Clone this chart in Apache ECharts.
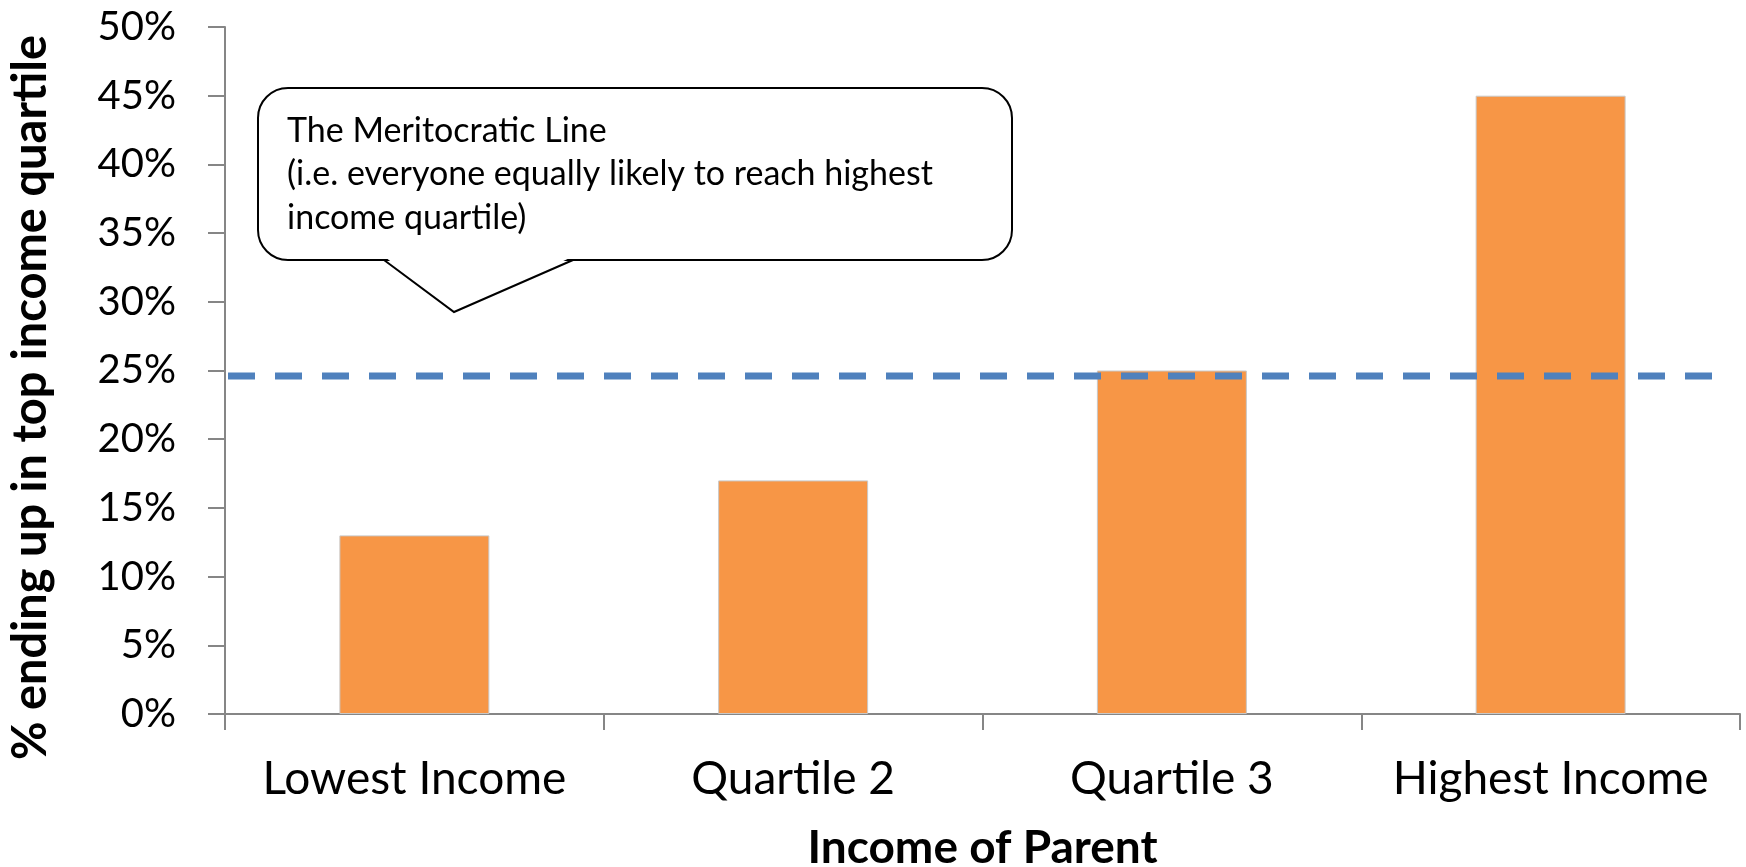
<!DOCTYPE html>
<html>
<head>
<meta charset="utf-8">
<script src="https://cdn.jsdelivr.net/npm/echarts@6/dist/echarts.min.js"></script>
<style>
html,body{margin:0;padding:0;background:#fff;}
#chart{width:1746px;height:867px;}
</style>
</head>
<body>
<div id="chart"></div>
<script>
const categories = ['Lowest Income', 'Quartile 2', 'Quartile 3', 'Highest Income'];
const topQuartileShare = [13, 17, 25, 45];
const meritocraticX = [0.008, 3.95];
const meritocraticY = [24.6, 24.6];
const yTicks = [0, 5, 10, 15, 20, 25, 30, 35, 40, 45, 50];
const calloutLines = ['The Meritocratic Line', '(i.e. everyone equally likely to reach highest', 'income quartile)'];

const FONT = 'Lato';
const chart = echarts.init(document.getElementById('chart'), null, {renderer: 'canvas'});

const option = {
  backgroundColor: '#ffffff',
  animation: false,
  grid: {left: 225, right: 6, top: 27, bottom: 153, containLabel: false, outerBoundsMode: 'none'},
  xAxis: [{
    type: 'category',
    data: categories,
    boundaryGap: true,
    name: 'Income of Parent',
    nameLocation: 'middle',
    nameGap: 111,
    nameTextStyle: {fontFamily: FONT, fontWeight: 'bold', fontSize: 46, color: '#000'},
    axisLine: {lineStyle: {color: '#868686', width: 2}},
    axisTick: {show: true, interval: 0, alignWithLabel: false, length: 16, lineStyle: {color: '#868686', width: 2}},
    axisLabel: {interval: 0, fontFamily: FONT, fontSize: 46, color: '#000', margin: 42},
    splitLine: {show: false}
  }, {
    type: 'value',
    min: 0, max: 4,
    show: false
  }],
  yAxis: {
    type: 'value',
    min: 0, max: 50, interval: 5,
    name: '% ending up in top income quartile',
    nameLocation: 'middle',
    nameRotate: 90,
    nameGap: 171,
    nameTextStyle: {fontFamily: FONT, fontWeight: 'bold', fontSize: 47, color: '#000', padding: [0, 54, 0, 0]},
    axisLine: {show: true, lineStyle: {color: '#868686', width: 2}},
    axisTick: {show: true, length: 17, lineStyle: {color: '#868686', width: 2}},
    axisLabel: {fontFamily: FONT, fontSize: 40, color: '#000', margin: 49,
      formatter: v => (yTicks.indexOf(v) >= 0 ? v + '%' : '')},
    splitLine: {show: false}
  },
  series: [{
    type: 'bar',
    xAxisIndex: 0,
    data: topQuartileShare,
    barWidth: '39.6%',
    itemStyle: {color: '#F79646', borderColor: '#c8c8c8', borderWidth: 1}
  }, {
    type: 'line',
    xAxisIndex: 1,
    data: meritocraticX.map((x, i) => [x, meritocraticY[i]]),
    symbol: 'none',
    lineStyle: {color: '#4F81BD', width: 7, type: [27, 20], cap: 'butt'},
    z: 5
  }],
  graphic: [{
    type: 'rect',
    shape: {x: 258, y: 88, width: 754, height: 172, r: 30},
    style: {fill: '#ffffff', stroke: '#000000', lineWidth: 2},
    z: 10
  }, {
    type: 'polygon',
    shape: {points: [[385, 257], [572, 257], [454, 311]]},
    style: {fill: '#ffffff', stroke: null},
    z: 11
  }, {
    type: 'polyline',
    shape: {points: [[384, 260], [454, 312], [573, 260]]},
    style: {fill: null, stroke: '#000000', lineWidth: 2},
    z: 12
  }, {
    type: 'text',
    left: 287, top: 109,
    style: {text: calloutLines.join('\n'), font: '34px Lato', fill: '#000', lineHeight: 43.5},
    z: 13
  }]
};
chart.setOption(option);
</script>
</body>
</html>
